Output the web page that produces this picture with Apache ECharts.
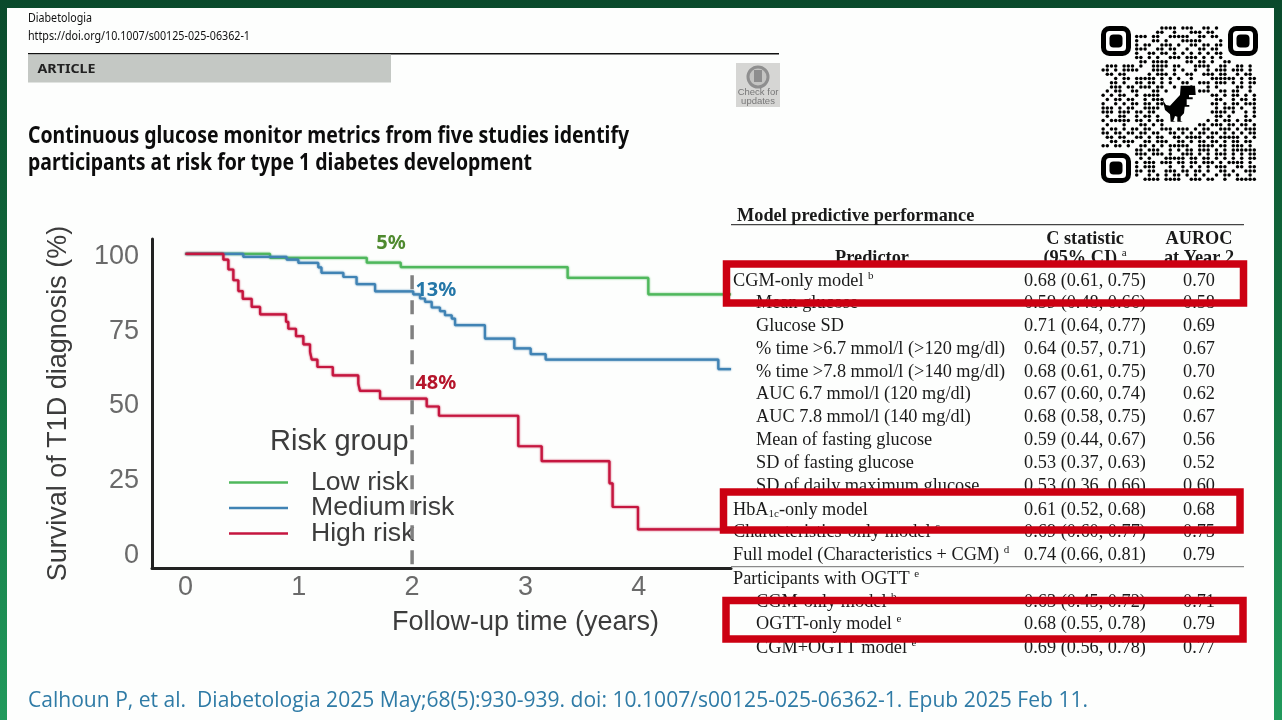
<!DOCTYPE html>
<html><head><meta charset="utf-8">
<style>html,body{margin:0;padding:0;background:#fff}#c{width:1282px;height:720px}</style>
<script src="https://cdn.jsdelivr.net/npm/echarts@6/dist/echarts.min.js"></script></head>
<body><div id="c"></div>
<script>
// ---- chart data ----
const xTicks = [0, 1, 2, 3, 4];
const yTicks = [0, 25, 50, 75, 100];
const lowTimes = [0, 0.746, 1.60, 1.90, 3.373, 4.085, 4.815];
const lowSurvival = [100, 98.7, 97.1, 95.6, 92, 86.5, 86.5];
const mediumTimes = [0, 0.51, 0.893, 0.996, 1.172, 1.20, 1.393, 1.51, 1.673, 2.01, 2.07, 2.114, 2.173, 2.246, 2.29, 2.35, 2.379, 2.643, 2.902, 3.047, 3.179, 4.703, 4.815];
const mediumSurvival = [100, 99, 98.1, 97, 95.5, 93.7, 92.3, 89.9, 87.5, 86.5, 85.1, 84, 82.1, 80.9, 79.5, 78.4, 76.2, 71.7, 68.4, 66.5, 64.7, 61.5, 61.5];
const highTimes = [0, 0.334, 0.378, 0.422, 0.466, 0.505, 0.584, 0.658, 0.887, 0.907, 0.975, 1.04, 1.099, 1.114, 1.164, 1.30, 1.525, 1.54, 1.717, 2.129, 2.237, 2.937, 3.144, 3.742, 3.77, 3.994, 4.815];
const highSurvival = [100, 98.1, 94.8, 91.2, 87.6, 85, 82.3, 79.8, 77.3, 75, 72.5, 69.8, 67.2, 64.7, 62.2, 59.4, 56.6, 54.2, 51.6, 49, 45.9, 35.7, 30.7, 23.3, 15.4, 7.9, 7.9];
const landmarkTime = [2, 2];
const landmarkSpan = [92.9, -5];
const noteLabels = ['5%', '13%', '48%'];
const noteTimes = [1.814, 2.21, 2.21];
const noteLevels = [103.5, 87.9, 56.7];
// ---- table text ----
const predictors = ['CGM-only model {s|b}', 'Mean glucose', 'Glucose SD', '% time >6.7 mmol/l (>120 mg/dl)', '% time >7.8 mmol/l (>140 mg/dl)', 'AUC 6.7 mmol/l (120 mg/dl)', 'AUC 7.8 mmol/l (140 mg/dl)', 'Mean of fasting glucose', 'SD of fasting glucose', 'SD of daily maximum glucose', 'HbA{u|1c}-only model', 'Characteristics-only model {s|c}', 'Full model (Characteristics + CGM) {s|d}', 'Participants with OGTT {s|e}', 'CGM-only model {s|b}', 'OGTT-only model {s|e}', 'CGM+OGTT model {s|e}'];
const indents = [0, 1, 1, 1, 1, 1, 1, 1, 1, 1, 0, 0, 0, 0, 1, 1, 1];
const cStats = ['0.68 (0.61, 0.75)', '0.59 (0.48, 0.66)', '0.71 (0.64, 0.77)', '0.64 (0.57, 0.71)', '0.68 (0.61, 0.75)', '0.67 (0.60, 0.74)', '0.68 (0.58, 0.75)', '0.59 (0.44, 0.67)', '0.53 (0.37, 0.63)', '0.53 (0.36, 0.66)', '0.61 (0.52, 0.68)', '0.69 (0.60, 0.77)', '0.74 (0.66, 0.81)', '', '0.63 (0.45, 0.72)', '0.68 (0.55, 0.78)', '0.69 (0.56, 0.78)'];
const aurocs = ['0.70', '0.58', '0.69', '0.67', '0.70', '0.62', '0.67', '0.56', '0.52', '0.60', '0.68', '0.75', '0.79', '', '0.71', '0.79', '0.77'];
const qrRows = [
"0000000000000011110111001101001000000","0000000000000110010001110110011000000","0000000011101100111110011011010100000",
"0000000010001101000111110000100100000","0000000010110011101001101101101000000","0000000011100110110010011011001100000",
"0000000010011011010101010101110100000","0000000011010100111011101010110000000","0000000001101111000011011010011000000",
"0111011101001111011000111100110011010","1101011110001110010100100101110111010","0110110000010111010011001110110010110",
"0001011011111010101001000011111101011","0011010011011010100110011101110101011","0011101101110110010001000101000011010",
"0101100110001101000000011100110110010","1010110010111100000000000011010110101","0101101100101110000000000001100101101",
"1001010110110110000000000011010110111","1110101100111100000000000001011101001","1110111011011000000000000011110100101",
"0100110010110100000000000001101000101","1011111011010110000000000101011010110","0100010001101010000000011011101101101",
"1011010110110011101110101100111010111","1101101101101100110101011011010101011","0110110011010110011011110110111110101",
"0011011100110111001101011011010110110","1101101001101010111110011110110111010","0000000011011100101011011101010111111",
"0000000011101110100111010101110101011","0000000001010001111101101101010101011","0000000010111011101101101110101111010",
"0000000010111000100101010101110011011","0000000011011001110110110100110100111","0000000010010101011010101001011010010",
"0000000000111101111001110110010011111"];

const zip = (a, b) => a.map((v, i) => [v, b[i]]);
const SANS = '"Liberation Sans", Arial, sans-serif';
const SERIF = '"Liberation Serif", "Times New Roman", serif';
const NOTO = '"Noto Sans", sans-serif';
const OPEN = '"Open Sans", sans-serif';
const ctx = document.createElement('canvas').getContext('2d');
function fit(str, font, weight, size, width) {
  ctx.font = weight + ' ' + size + 'px ' + font;
  return width / ctx.measureText(str).width;
}
const g = [];
function txt(x, y, str, o) {
  o = o || {};
  const font = o.font || SERIF, weight = o.weight || 'normal', size = o.size || 18.3;
  const el = { type: 'text', z: o.z || 10, x: x, y: y,
    style: { text: str, fontFamily: font, fontWeight: weight, fontSize: size, fill: o.color || '#1a1a1a',
      textAlign: o.align || 'left', textVerticalAlign: 'middle', verticalAlign: 'middle', rich: o.rich } };
  if (o.width) el.scaleX = fit(str, font, weight, size, o.width);
  g.push(el);
}
// page panel
g.push({ type: 'rect', z: -1, shape: { x: 7, y: 8, width: 1267, height: 712 }, style: { fill: '#fdfefd' } });
// article header
txt(28, 19, 'Diabetologia', { font: NOTO, size: 12, width: 64, color: '#111' });
txt(28, 36.5, 'https://doi.org/10.1007/s00125-025-06362-1', { font: NOTO, size: 12, width: 222, color: '#111' });
g.push({ type: 'rect', z: 5, shape: { x: 28, y: 53, width: 751, height: 1.5 }, style: { fill: '#111' } });
g.push({ type: 'rect', z: 5, shape: { x: 28, y: 54.5, width: 363, height: 28 }, style: { fill: '#c4c8c4' } });
txt(37.5, 69.5, 'ARTICLE', { font: NOTO, weight: 'bold', size: 13, width: 58, color: '#222' });
txt(28, 136, 'Continuous glucose monitor metrics from five studies identify', { font: NOTO, weight: 'bold', size: 23, width: 601, color: '#0c0c0c' });
txt(28, 163, 'participants at risk for type 1 diabetes development', { font: NOTO, weight: 'bold', size: 23, width: 504, color: '#0c0c0c' });
// check-for-updates badge
g.push({ type: 'rect', z: 5, shape: { x: 736, y: 63, width: 44, height: 44 }, style: { fill: '#d6d6d4' } });
g.push({ type: 'circle', z: 6, shape: { cx: 758, cy: 77, r: 10 }, style: { fill: '#c4c4c2', stroke: '#8f8f8f', lineWidth: 3 } });
g.push({ type: 'rect', z: 7, shape: { x: 754, y: 70, width: 8, height: 12 }, style: { fill: '#8e8e8e' } });
txt(758, 92.5, 'Check for', { font: SANS, size: 9.5, align: 'center', color: '#777' });
txt(758, 101, 'updates', { font: SANS, size: 9.5, align: 'center', color: '#777' });
// QR picture
const qx = 1101, qy = 26, qm = 4.2;
qrRows.forEach((row, r) => { for (let c = 0; c < 37; c++) {
  if (row[c] !== '1') continue;
  if ((r < 8 && c < 8) || (r < 8 && c > 28) || (r > 28 && c < 8)) continue;
  g.push({ type: 'circle', z: 5, shape: { cx: qx + (c + 0.5) * qm, cy: qy + (r + 0.5) * qm, r: 1.75 }, style: { fill: '#000' } });
}});
[[qx, qy], [1228, qy], [qx, 153]].forEach(p => {
  g.push({ type: 'rect', z: 5, shape: { x: p[0] + 2.5, y: p[1] + 2.5, width: 25, height: 25, r: 6 }, style: { fill: '#fff', stroke: '#000', lineWidth: 5 } });
  g.push({ type: 'rect', z: 6, shape: { x: p[0] + 8.5, y: p[1] + 8.5, width: 13, height: 13, r: 4 }, style: { fill: '#000' } });
});
g.push({ type: 'polygon', z: 6, shape: { points: [[1180.7,85.7],[1195,85.7],[1195.7,95],[1189,95],[1189,97.3],[1192.7,97.3],[1192.7,99.3],[1186.7,99.3],[1186.7,105],[1189.3,105],[1189.3,106.7],[1184.7,106.7],[1184,113.3],[1180.7,116.7],[1180.7,121],[1182.7,121.7],[1177.3,121.7],[1177.3,116.7],[1175,116],[1173.3,121],[1175.7,121.7],[1170.7,121.7],[1170,114.3],[1165,110],[1162.7,100],[1166,105],[1170,105.7],[1180,95]] }, style: { fill: '#000' } });
// legend heading
txt(270, 441.5, 'Risk group', { font: SANS, size: 29, color: '#3c3c3c' });
// table
const rowY = [281, 303, 326, 349, 372, 394, 417, 440, 463, 486, 510, 532, 555, 579, 602, 624, 648];
const rich = { s: { fontFamily: SERIF, fontSize: 11, verticalAlign: 'top', fill: '#1a1a1a', lineHeight: 20 }, u: { fontFamily: SERIF, fontSize: 11, verticalAlign: 'bottom', fill: '#1a1a1a', lineHeight: 20 } };
txt(737, 216, 'Model predictive performance', { weight: 'bold' });
g.push({ type: 'rect', z: 5, shape: { x: 731, y: 224, width: 513, height: 1.2 }, style: { fill: '#444' } });
txt(1085, 239, 'C statistic', { weight: 'bold', align: 'center' });
txt(1085, 258, '(95% CI) {s|a}', { weight: 'bold', align: 'center', rich });
txt(1199, 239, 'AUROC', { weight: 'bold', align: 'center' });
txt(1199, 258, 'at Year 2', { weight: 'bold', align: 'center' });
txt(872, 258, 'Predictor', { weight: 'bold', align: 'center' });
predictors.forEach((p, i) => {
  txt(indents[i] ? 756 : 733, rowY[i], p, { rich });
  if (cStats[i]) txt(1085, rowY[i], cStats[i], { align: 'center' });
  if (aurocs[i]) txt(1199, rowY[i], aurocs[i], { align: 'center' });
});
g.push({ type: 'rect', z: 5, shape: { x: 731, y: 566, width: 513, height: 1.2 }, style: { fill: '#8a8a8a' } });
// red highlight boxes
[[726.5, 264, 517, 39], [723.5, 492, 516.5, 38], [726, 600.5, 517, 38.5]].forEach(b => {
  g.push({ type: 'rect', z: 20, shape: { x: b[0], y: b[1], width: b[2], height: b[3] }, style: { fill: 'transparent', stroke: '#cc0012', lineWidth: 7.5 } });
});
// citation
txt(28, 701, 'Calhoun P, et al.  Diabetologia 2025 May;68(5):930-939. doi: 10.1007/s00125-025-06362-1. Epub 2025 Feb 11.', { font: OPEN, size: 21.5, width: 1060, color: '#2f7ba6' });

const lineSeries = (name, t, s, color, z) => ({ name, type: 'line', step: 'end', data: zip(t, s), symbol: 'none', z,
  lineStyle: { color, width: 2.2, shadowColor: color, shadowBlur: 2 }, itemStyle: { color } });
const noteColors = ['#4f8a2f', '#2577a8', '#b5152b'];
const chart = echarts.init(document.getElementById('c'), null, { renderer: 'canvas' });
chart.setOption({
  animation: false,
  backgroundColor: new echarts.graphic.LinearGradient(0, 0, 0, 1, [{ offset: 0, color: '#0a4a2c' }, { offset: 0.5, color: '#127140' }, { offset: 1, color: '#219a5c' }]),
  grid: { left: 152, top: 239, width: 579, height: 329 },
  xAxis: { type: 'value', min: -0.296, max: 4.815,
    name: 'Follow-up time (years)', nameLocation: 'middle', nameGap: 41,
    nameTextStyle: { fontFamily: SANS, fontSize: 27, color: '#3c3c3c', padding: [0, 0, 0, 168] },
    axisLine: { show: true, onZero: false, lineStyle: { color: '#222', width: 3 } },
    axisTick: { show: false }, splitLine: { show: false },
    axisLabel: { customValues: xTicks, fontFamily: SANS, fontSize: 27, color: '#6a6a6a', margin: 6, showMinLabel: true, showMaxLabel: true } },
  yAxis: { type: 'value', min: -5, max: 105,
    name: 'Survival of T1D diagnosis (%)', nameLocation: 'middle', nameGap: 80,
    nameTextStyle: { fontFamily: SANS, fontSize: 27, color: '#3c3c3c' },
    axisLine: { show: true, onZero: false, lineStyle: { color: '#222', width: 3 } },
    axisTick: { show: false }, splitLine: { show: false },
    axisLabel: { customValues: yTicks, margin: 13, formatter: v => '{v|' + v + '}',
      rich: { v: { fontFamily: SANS, fontSize: 27, color: '#6a6a6a', padding: [5, 0, 0, 0] } } } },
  legend: { data: ['Low risk', 'Medium risk', 'High risk'], orient: 'vertical', left: 229, top: 469, itemWidth: 59, itemHeight: 14, itemGap: -1.5,
    icon: 'path://M0,0H100V4H0Z', selectedMode: false, padding: 0,
    textStyle: { fontFamily: SANS, fontSize: 26.6, color: '#3c3c3c', padding: [0, 0, 0, 18] } },
  graphic: { elements: g },
  series: [
    lineSeries('Low risk', lowTimes, lowSurvival, '#4fb85c', 3),
    lineSeries('Medium risk', mediumTimes, mediumSurvival, '#4083b4', 4),
    lineSeries('High risk', highTimes, highSurvival, '#c5163f', 5),
    { name: 'Year 2', type: 'line', data: zip(landmarkTime, landmarkSpan), symbol: 'none', z: 6, lineStyle: { color: '#808080', width: 3.5, type: [14, 11] } },
    { name: 'Notes', type: 'scatter', symbolSize: 1, z: 7, itemStyle: { color: 'transparent', opacity: 1 },
      data: noteLabels.map((n, i) => ({ value: [noteTimes[i], noteLevels[i]], name: n, label: { color: noteColors[i] } })),
      label: { show: true, position: 'inside', opacity: 1, formatter: p => p.name, fontFamily: NOTO, fontWeight: 'bold', fontSize: 20 } }
  ]
});
</script></body></html>
